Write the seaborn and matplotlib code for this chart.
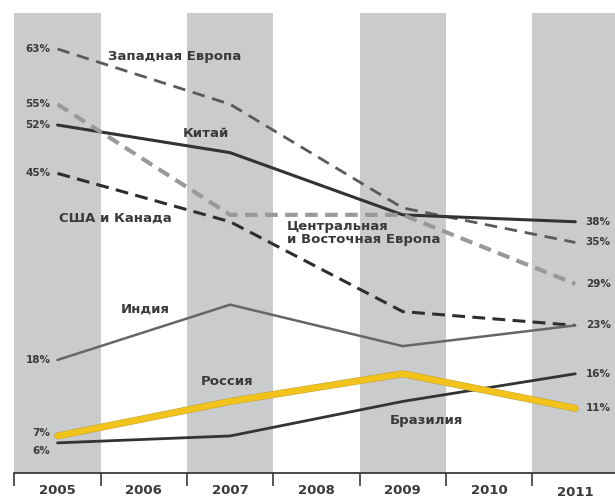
import pandas as pd
import matplotlib.pyplot as plt
import matplotlib.patheffects as pe
import seaborn as sns

years = [2005, 2007, 2009, 2011]
west_europe = [63, 55, 40, 35]
china = [52, 48, 39, 38]
cee = [55, 39, 39, 29]
usa_canada = [45, 38, 25, 23]
india = [18, 26, 20, 23]
russia = [7, 12, 16, 11]
brazil = [6, 7, 12, 16]

tick_years = [2005, 2006, 2007, 2008, 2009, 2010, 2011]

series = {
    "Западная Европа": west_europe,
    "Китай": china,
    "Центральная и Восточная Европа": cee,
    "США и Канада": usa_canada,
    "Индия": india,
    "Россия": russia,
    "Бразилия": brazil,
}

rows = []
for name, vals in series.items():
    for y, v in zip(years, vals):
        rows.append({"year": y, "value": v, "region": name})
df = pd.DataFrame(rows)

styles = {
    "Западная Европа": dict(color="#5a5a5a", lw=2.0, dashes=(4.5, 2.8)),
    "Китай": dict(color="#333333", lw=2.2, dashes=None),
    "Центральная и Восточная Европа": dict(color="#999999", lw=3.0, dashes=(3, 1.8)),
    "США и Канада": dict(color="#2e2e2e", lw=2.2, dashes=(4.2, 2.4)),
    "Индия": dict(color="#666666", lw=1.8, dashes=None),
    "Россия": dict(color="#f2c31b", lw=4.3, dashes=None),
    "Бразилия": dict(color="#333333", lw=2.0, dashes=None),
}

sns.set_theme(style="white")
plt.rcParams["font.family"] = ["DejaVu Sans"]

fig = plt.figure(figsize=(6.15, 5.01), dpi=100)
ax = fig.add_axes([0.0228, 0.0559, 0.9772, 0.918])

for y in [2005, 2007, 2009, 2011]:
    ax.axvspan(y - 0.5, y + 0.5, color="#c9cbcd", lw=0, zorder=0)

for name in series:
    st = styles[name]
    sub = df[df["region"] == name]
    sns.lineplot(data=sub, x="year", y="value", ax=ax, color=st["color"],
                 linewidth=st["lw"], legend=False, zorder=3)
    line = ax.lines[-1]
    if st["dashes"] is not None:
        line.set_dashes(st["dashes"])
    if name == "Россия":
        line.set_path_effects([pe.Stroke(linewidth=st["lw"] + 0.8, foreground="#c2a43a"),
                               pe.Normal()])
        line.set_zorder(4)

txt = "#3a3a3a"
# start/end value labels (small nudges where labels would collide)
start_nudge = {"Россия": 0.5, "Бразилия": -1.2}
for name, vals in series.items():
    ax.text(years[0] - 0.08, vals[0] + start_nudge.get(name, 0), f"{vals[0]}%",
            ha="right", va="center", fontsize=7.5, fontweight="bold", color=txt)
for name in ["Китай", "Западная Европа", "Центральная и Восточная Европа",
             "США и Канада", "Россия", "Бразилия"]:
    v = series[name][-1]
    ax.text(years[-1] + 0.12, v, f"{v}%", ha="left", va="center",
            fontsize=7.5, fontweight="bold", color=txt)

lab = dict(fontsize=9.5, fontweight="bold", color=txt, ha="left", va="center")
ax.text(2005.58, 61.9, "Западная Европа", **lab)
ax.text(2006.45, 50.8, "Китай", **lab)
ax.text(2005.02, 38.5, "США и Канада", **lab)
ax.text(2007.66, 36.4, "Центральная\nи Восточная Европа", linespacing=1.0, **lab)
ax.text(2005.73, 25.4, "Индия", **lab)
ax.text(2006.66, 14.9, "Россия", **lab)
ax.text(2008.85, 9.3, "Бразилия", **lab)

ax.set_xlim(2004.496, 2011.46)
ax.set_ylim(1.64, 68.2)
ax.set_yticks([])
for side in ["left", "right", "top"]:
    ax.spines[side].set_visible(False)
ax.spines["bottom"].set_color("#3a3a3a")
ax.spines["bottom"].set_linewidth(1.3)

ax.set_xticks([t + 0.5 for t in [2004] + tick_years[:-1]])
ax.set_xticklabels([])
ax.tick_params(axis="x", direction="out", length=9, width=1.2, color="#3a3a3a",
               bottom=True)
ax.set_xticks(tick_years, minor=True)
ax.set_xticklabels([str(t) for t in tick_years], minor=True)
ax.tick_params(axis="x", which="minor", length=0, pad=8, labelsize=9.5,
               labelcolor=txt)
for t in ax.get_xticklabels(minor=True):
    t.set_fontweight("bold")
ax.get_xticklabels(minor=True)[-1].set_y(-0.005)
ax.set_xlabel("")
ax.set_ylabel("")

fig.savefig("out.png", dpi=100)
